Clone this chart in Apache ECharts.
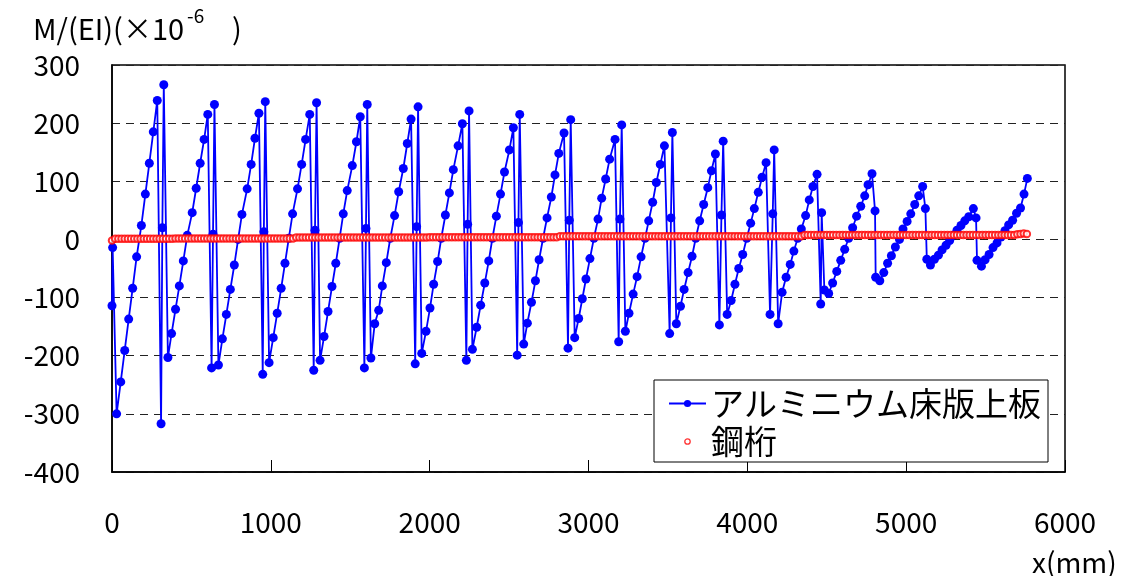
<!DOCTYPE html>
<html><head><meta charset="utf-8">
<script src="https://cdn.jsdelivr.net/npm/echarts@6/dist/echarts.min.js"></script>
<style>html,body{margin:0;padding:0;background:#fff}#c{width:1121px;height:576px}</style>
</head><body><div id="c"></div>
<script>
// アルミニウム床版上板 : x (mm)
const blueX = [
  0,4,29,55,80,105,130,155,185,210,235,260,285,309,317,326,
  352,375,400,424,449,474,505,530,555,580,603,627,636,645,
  670,695,720,745,770,794,818,851,876,900,925,949,956,965,
  989,1015,1040,1065,1089,1113,1137,1168,1194,1219,1245,1270,1278,1288,
  1310,1335,1360,1385,1409,1433,1456,1481,1513,1539,1563,1589,1599,1607,
  1630,1654,1679,1702,1727,1752,1779,1805,1834,1859,1883,1909,1918,1927,
  1950,1977,2002,2025,2050,2073,2099,2124,2149,2179,2206,2231,2239,2248,
  2269,2296,2321,2347,2372,2395,2420,2446,2471,2502,2527,2551,2559,2567,
  2592,2615,2641,2666,2689,2714,2739,2766,2789,2813,2846,2871,2879,2888,
  2913,2938,2961,2984,3009,3034,3060,3083,3108,3133,3167,3190,3198,3209,
  3232,3255,3281,3306,3331,3356,3379,3404,3427,3452,3478,3511,3519,3528,
  3553,3579,3602,3627,3652,3675,3700,3725,3751,3774,3799,3824,3837,3848,
  3873,3898,3922,3946,3971,3996,4021,4044,4069,4093,4118,4143,4160,4169,
  4194,4219,4244,4270,4293,4317,4340,4367,4390,4413,4439,4462,4468,4485,4512,
  4537,4563,4588,4613,4638,4663,4688,4714,4739,4760,4785,4804,4808,4834,
  4859,4883,4907,4932,4958,4980,5006,5029,5054,5079,5104,5121,5130,5153,
  5178,5203,5226,5251,5274,5297,5320,5345,5369,5394,5423,5440,5446,5474,
  5497,5522,5547,5572,5597,5622,5645,5670,5695,5720,5742,5763
];
// アルミニウム床版上板 : M/(EI) (x10^-6)
const blueY = [
  -114,-14,-300,-245,-191,-137,-84,-30,24,78,131,185,239,-317,20,266,
  -203,-162,-120,-80,-37,7,46,88,131,172,215,-221,9,232,
  -216,-171,-129,-86,-44,0,43,87,129,174,217,-232,13,237,
  -212,-169,-127,-84,-41,2,44,87,129,172,215,-225,16,235,
  -208,-167,-124,-81,-41,2,44,84,127,168,211,-221,19,232,
  -204,-145,-122,-80,-40,2,41,82,122,165,207,-214,22,228,
  -196,-158,-118,-77,-38,2,42,80,120,161,199,-208,26,221,
  -189,-151,-113,-75,-37,2,40,78,116,154,192,-199,29,215,
  -180,-144,-108,-71,-35,2,37,73,111,148,183,-187,33,206,
  -169,-136,-102,-68,-33,2,35,71,104,138,172,-176,35,197,
  -158,-127,-94,-64,-30,2,32,64,98,129,161,-162,37,184,
  -145,-115,-86,-57,-29,2,32,60,89,118,147,-147,42,169,
  -129,-105,-77,-50,-26,2,28,53,81,107,132,-129,44,154,
  -145,-91,-65,-43,-20,2,18,41,68,91,112,-111,46,-87,-93,
  -75,-55,-36,-17,2,20,40,57,75,94,113,49,-65,-71,
  -57,-41,-28,-13,0,18,31,44,60,75,91,53,-34,-44,
  -34,-27,-18,-10,-2,7,16,24,32,39,53,37,-36,-46,
  -35,-26,-14,-6,4,15,25,33,45,54,78,105
];
// 鋼桁 : x (mm)
const redX = [
  0,20,40,60,80,100,120,140,160,180,200,220,240,260,280,300,320,340,360,380,
  400,420,440,460,480,500,520,540,560,580,600,620,640,660,680,700,720,740,760,780,
  800,820,840,860,880,900,920,940,960,980,1000,1020,1040,1060,1080,1100,1120,1140,1160,1180,
  1200,1220,1240,1260,1280,1300,1320,1340,1360,1380,1400,1420,1440,1460,1480,1500,1520,1540,1560,1580,
  1600,1620,1640,1660,1680,1700,1720,1740,1760,1780,1800,1820,1840,1860,1880,1900,1920,1940,1960,1980,
  2000,2020,2040,2060,2080,2100,2120,2140,2160,2180,2200,2220,2240,2260,2280,2300,2320,2340,2360,2380,
  2400,2420,2440,2460,2480,2500,2520,2540,2560,2580,2600,2620,2640,2660,2680,2700,2720,2740,2760,2780,
  2800,2820,2840,2860,2880,2900,2920,2940,2960,2980,3000,3020,3040,3060,3080,3100,3120,3140,3160,3180,
  3200,3220,3240,3260,3280,3300,3320,3340,3360,3380,3400,3420,3440,3460,3480,3500,3520,3540,3560,3580,
  3600,3620,3640,3660,3680,3700,3720,3740,3760,3780,3800,3820,3840,3860,3880,3900,3920,3940,3960,3980,
  4000,4020,4040,4060,4080,4100,4120,4140,4160,4180,4200,4220,4240,4260,4280,4300,4320,4340,4360,4380,
  4400,4420,4440,4460,4480,4500,4520,4540,4560,4580,4600,4620,4640,4660,4680,4700,4720,4740,4760,4780,
  4800,4820,4840,4860,4880,4900,4920,4940,4960,4980,5000,5020,5040,5060,5080,5100,5120,5140,5160,5180,
  5200,5220,5240,5260,5280,5300,5320,5340,5360,5380,5400,5420,5440,5460,5480,5500,5520,5540,5560,5580,
  5600,5620,5640,5660,5680,5700,5720,5740,5760
];
// 鋼桁 : M/(EI) (x10^-6)
const redY = [
  -2,1.2,1.2,1.2,1.2,1.2,1.2,1.2,1.2,1.2,1.2,1.2,1.2,1.2,1.2,1.2,1.2,1.2,1.2,1.2,
  1.5,1.5,1.5,1.5,1.5,1.5,1.5,1.5,1.5,1.5,1.5,1.5,1.5,1.5,1.5,1.5,1.5,1.5,1.5,1.5,
  1.8,1.8,1.8,1.8,1.8,1.8,1.8,1.8,1.8,1.8,1.8,1.8,1.8,1.8,1.8,1.8,1.8,1.8,3.5,3.5,
  3.5,3.5,3.5,3.5,3.5,3.5,3.5,3.5,3.5,3.5,3.5,3.5,3.5,3.5,3.5,3.5,3.5,3.5,3.5,3.5,
  3.5,3.5,3.5,3.5,3.5,3.5,3.5,3.5,3.5,3.5,3.5,3.5,3.5,3.5,3.5,3.5,3.5,3.5,3.5,3.5,
  3.6,3.6,3.6,3.6,3.6,3.6,3.6,3.6,3.6,3.6,3.6,3.6,3.6,3.6,3.6,3.6,3.6,3.6,3.6,3.6,
  3.6,3.6,3.6,3.6,3.6,3.6,3.6,3.6,3.6,3.6,3.6,3.6,3.6,3.6,3.6,3.6,3.6,3.6,3.6,3.6,
  3.6,5.5,5.5,5.5,5.5,5.5,5.5,5.5,5.5,5.5,5.5,5.5,5.5,5.5,5.5,5.5,5.5,5.5,5.5,5.5,
  5.5,5.5,5.5,5.5,5.5,5.5,5.5,5.5,5.5,5.5,5.5,5.5,5.5,5.5,5.5,5.5,5.5,5.5,5.5,5.5,
  5.5,5.5,5.5,5.5,5.5,5.5,5.5,5.5,5.5,5.5,5.5,5.5,5.5,5.5,5.5,5.5,5.5,5.5,5.5,5.5,
  5.5,5.5,5.5,5.5,5.5,5.5,5.5,5.5,5.5,5.5,5.5,5.5,5.5,5.5,5.5,5.5,5.5,5.5,7.5,7.5,
  7.5,7.5,7.5,7.5,7.5,7.5,7.5,7.5,7.5,7.5,7.5,7.5,7.5,7.5,7.5,7.5,7.5,7.5,7.5,7.5,
  7.5,7.5,7.5,7.5,7.5,7.5,7.5,7.5,7.5,7.5,7.5,7.5,7.5,7.5,7.5,7.5,7.5,7.5,7.5,7.5,
  7.5,7.5,7.5,7.5,7.5,7.5,7.5,7.5,7.5,7.5,7.5,7.5,7.5,7.5,7.5,7.5,7.5,7.5,7.5,7.5,
  7.5,7.5,7.5,7.5,7.5,9,9.5,10,9.5
];
const seriesNames = ['アルミニウム床版上板', '鋼桁'];
const yTitle = 'M/(EI)(×10';
const yTitleSup = '-6';
const yTitleEnd = ')';
const xTitle = 'x(mm)';

const FONT = '"Noto Sans CJK JP","Noto Sans",sans-serif';
const mctx = document.createElement('canvas').getContext('2d');
function textW(t, size) { mctx.font = size + 'px ' + FONT; return mctx.measureText(t).width; }
const titleSize = 29, supSize = 19;
const wMain = textW(yTitle, titleSize);
const wSup = textW(yTitleSup, supSize);

const chart = echarts.init(document.getElementById('c'), null, {renderer: 'canvas'});
chart.setOption({
  animation: false,
  backgroundColor: '#fff',
  grid: {left: 112, right: 56, top: 65, bottom: 104, show: true, borderColor: '#000', borderWidth: 1.5, backgroundColor: 'transparent'},
  xAxis: {
    type: 'value', min: 0, max: 6000, interval: 1000,
    axisLine: {show: true, onZero: false, lineStyle: {color: '#000', width: 1.5}},
    axisTick: {show: true, inside: true, length: 12, lineStyle: {color: '#000', width: 1}},
    axisLabel: {fontSize: 28, color: '#000', fontFamily: FONT, margin: 36, formatter: v => String(v)},
    splitLine: {show: false}
  },
  yAxis: {
    type: 'value', min: -400, max: 300, interval: 100,
    axisLine: {show: true, onZero: false, lineStyle: {color: '#000', width: 1.5}},
    axisTick: {show: false},
    axisLabel: {fontSize: 28, color: '#000', fontFamily: FONT, margin: 32, formatter: v => String(v)},
    splitLine: {show: true, lineStyle: {color: '#222', width: 1, type: [8, 6]}}
  },
  legend: {
    orient: 'vertical', left: 654, top: 380,
    padding: [7, 7, 4, 14], itemGap: 5, itemWidth: 37, itemHeight: 9, itemTextGap: 8,
    backgroundColor: '#fff', borderColor: '#000', borderWidth: 1,
    textStyle: {fontSize: 33, color: '#000', fontFamily: FONT},
    data: [
      {name: seriesNames[0]},
      {name: seriesNames[1],
       icon: 'path://M0,0M12,12M2.4,6A3.6,3.6,0,1,1,9.6,6A3.6,3.6,0,1,1,2.4,6Z',
       itemStyle: {color: '#ffffff', borderColor: '#ff0000', borderWidth: 1.3}}
    ]
  },
  graphic: [
    {type: 'text', left: 33, top: 14, z: 10, style: {text: yTitle, fontSize: titleSize, fontFamily: FONT, fill: '#000'}},
    {type: 'text', left: 33 + wMain + 3, top: 6, z: 10, style: {text: yTitleSup, fontSize: supSize, fontFamily: FONT, fill: '#000'}},
    {type: 'text', left: 232, top: 14, z: 10, style: {text: yTitleEnd, fontSize: titleSize, fontFamily: FONT, fill: '#000'}},
    {type: 'text', left: 1032, top: 548, z: 10, style: {text: xTitle, fontSize: 28, fontFamily: FONT, fill: '#000'}}
  ],
  series: [
    {
      name: seriesNames[0], type: 'line', z: 2,
      data: blueX.map((x, i) => [x, blueY[i]]),
      symbol: 'circle', symbolSize: 9, showSymbol: true,
      lineStyle: {color: '#0000ff', width: 1.8},
      itemStyle: {color: '#0000ff'}
    },
    {
      name: seriesNames[1], type: 'scatter', z: 3,
      data: redX.map((x, i) => [x, redY[i]]),
      symbol: 'emptyCircle', symbolSize: 6.5,
      itemStyle: {color: '#ff0000', borderColor: '#ff0000', borderWidth: 1.3}
    }
  ]
});
</script>
</body></html>
